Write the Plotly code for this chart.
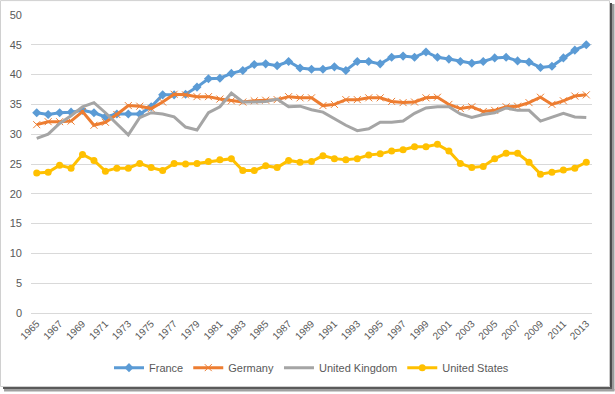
import plotly.graph_objects as go

years = list(range(1965, 2014))
france = [33.6, 33.3, 33.6, 33.7, 34.0, 33.6, 32.9, 33.4, 33.4, 33.4, 34.6, 36.6, 36.6, 36.7, 37.9, 39.3,
          39.4, 40.2, 40.7, 41.7, 41.8, 41.5, 42.2, 41.1, 40.9, 40.9, 41.3, 40.7, 42.2, 42.2, 41.8, 42.9,
          43.1, 42.9, 43.8, 42.9, 42.6, 42.2, 41.9, 42.2, 42.8, 42.9, 42.3, 42.1, 41.2, 41.4, 42.8, 44.1, 45.0]
germany = [31.6, 32.1, 32.1, 32.2, 33.8, 31.5, 32.0, 33.3, 34.8, 34.7, 34.3, 35.4, 36.7, 36.6, 36.3, 36.3,
           35.9, 35.6, 35.4, 35.6, 35.7, 35.8, 36.3, 36.1, 36.1, 34.8, 35.0, 35.8, 35.8, 36.1, 36.1, 35.5,
           35.3, 35.4, 36.1, 36.2, 35.0, 34.3, 34.6, 33.8, 34.0, 34.6, 34.7, 35.3, 36.2, 35.0, 35.6, 36.4, 36.6]
uk = [29.3, 30.0, 31.8, 33.1, 34.6, 35.3, 33.6, 31.7, 29.9, 32.8, 33.6, 33.4, 32.9, 31.2, 30.7, 33.6,
      34.6, 36.9, 35.4, 35.4, 35.5, 35.9, 34.6, 34.7, 34.1, 33.7, 32.6, 31.5, 30.6, 30.9, 32.0, 32.0,
      32.2, 33.5, 34.4, 34.6, 34.6, 33.4, 32.8, 33.3, 33.6, 34.4, 34.0, 34.0, 32.2, 32.8, 33.5, 32.9, 32.8]
us = [23.5, 23.6, 24.8, 24.3, 26.6, 25.6, 23.8, 24.3, 24.3, 25.1, 24.4, 23.9, 25.1, 25.0, 25.1, 25.4,
      25.7, 25.9, 23.9, 23.9, 24.7, 24.4, 25.6, 25.3, 25.4, 26.4, 25.9, 25.7, 25.9, 26.5, 26.7, 27.2,
      27.4, 27.9, 27.9, 28.3, 27.2, 25.1, 24.4, 24.6, 25.9, 26.8, 26.8, 25.3, 23.3, 23.6, 24.0, 24.3, 25.3]
x_ticks = list(range(1965, 2014, 2))
y_ticks = list(range(0, 51, 5))

W, H = 615, 394
L, R, T, B = 31, 592.5, 15, 315
pw, ph = R - L, B - T

def px(x):
    return (x - L) / pw

def py(y):
    return (B - y) / ph

fig = go.Figure()
fig.add_trace(go.Scatter(x=years, y=france, name="France", mode="lines+markers",
                         line=dict(color="#5B9BD5", width=3),
                         marker=dict(symbol="diamond", size=7, color="#5B9BD5")))
fig.add_trace(go.Scatter(x=years, y=germany, name="Germany", mode="lines+markers",
                         line=dict(color="#ED7D31", width=3),
                         marker=dict(symbol="x-thin-open", size=7,
                                     line=dict(color="#ED7D31", width=1), color="#ED7D31")))
fig.add_trace(go.Scatter(x=years, y=uk, name="United Kingdom", mode="lines",
                         line=dict(color="#A5A5A5", width=3)))
fig.add_trace(go.Scatter(x=years, y=us, name="United States", mode="lines+markers",
                         line=dict(color="#FFC000", width=3),
                         marker=dict(symbol="circle", size=7, color="#FFC000")))

shapes = [
    # frame
    dict(type="rect", xref="paper", yref="paper", x0=px(0.5), x1=px(610), y0=py(0.5), y1=py(389),
         line=dict(color="#D0D0D0", width=1), fillcolor="rgba(0,0,0,0)", layer="below"),
    # right shadow
    dict(type="rect", xref="paper", yref="paper", x0=px(610.5), x1=px(612.5), y0=py(3), y1=py(391),
         line=dict(width=0), fillcolor="#4A4A4A"),
    dict(type="rect", xref="paper", yref="paper", x0=px(612.5), x1=px(615), y0=py(4), y1=py(393),
         line=dict(width=0), fillcolor="#9A9A9A"),
    # bottom shadow
    dict(type="rect", xref="paper", yref="paper", x0=px(3), x1=px(612.5), y0=py(389.5), y1=py(391.5),
         line=dict(width=0), fillcolor="#5A5A5A"),
    dict(type="rect", xref="paper", yref="paper", x0=px(4), x1=px(615), y0=py(391.5), y1=py(394),
         line=dict(width=0), fillcolor="#A0A0A0"),
]

fig.update_layout(
    width=W, height=H,
    margin=dict(l=L, r=W - R, t=T, b=H - B, pad=0),
    paper_bgcolor="white", plot_bgcolor="white",
    font=dict(family="Liberation Sans, Arial, sans-serif", color="#595959", size=11),
    showlegend=True,
    legend=dict(orientation="h", x=0.5, xanchor="center", y=py(370), yanchor="middle",
                font=dict(size=11, color="#595959"), itemwidth=30, bgcolor="rgba(0,0,0,0)"),
    shapes=shapes,
    xaxis=dict(range=[1964.5, 2013.5], tickmode="array", tickvals=x_ticks,
               ticktext=[str(v) for v in x_ticks], tickangle=-45, showgrid=False,
               zeroline=False, showline=True, linecolor="#D9D9D9", linewidth=1,
               ticks="", tickfont=dict(size=10, color="#595959"), fixedrange=True,
               automargin=False),
    yaxis=dict(range=[0, 50], tickmode="array", tickvals=y_ticks, showgrid=True,
               gridcolor="#D9D9D9", gridwidth=1, zeroline=False, showline=False,
               ticks="", ticklabelstandoff=8, tickfont=dict(size=11, color="#595959"),
               fixedrange=True, automargin=False),
)

fig.write_html("out.html", config={"displayModeBar": False},
               post_script="document.body.style.margin='0';document.body.style.overflow='hidden';")
